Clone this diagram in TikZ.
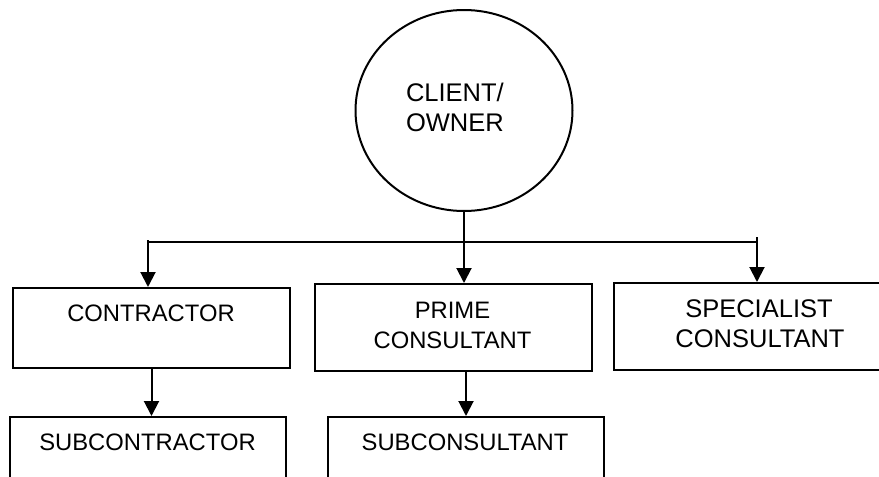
\documentclass[tikz,border=0pt]{standalone}
\usepackage{fontspec}
\setmainfont{Liberation Sans}
\usetikzlibrary{arrows.meta,shapes.geometric,calc}

\begin{document}
\begin{tikzpicture}[x=1pt,y=-1pt,
  line width=2pt,
  box/.style={draw, rectangle, line width=2pt, minimum width=#1, inner sep=0pt},
  lbl/.style={anchor=base, inner sep=0pt, font=\fontsize{23.8}{30}\selectfont},
  biglbl/.style={anchor=base, inner sep=0pt, font=\fontsize{25.5}{30}\selectfont},
  link/.style={-{Triangle[length=15pt,width=15pt]}, line width=2pt}]

  \useasboundingbox (0,0) rectangle (879,477);
  \clip (0,0) rectangle (879,477);
  \fill[white] (0,0) rectangle (879,477);

  % owner at the top
  \node[draw, ellipse, line width=2pt, minimum width=217pt, minimum height=201pt, inner sep=0pt] (client) at (464,110.5) {};
  \node[biglbl, anchor=base west] (clientA) at (405,101.7) {CLIENT/};
  \node[biglbl, anchor=base west] (clientB) at (405,131.7) {OWNER};

  % first tier
  \node[box=277pt, minimum height=80pt] (contractor) at (151.5,328) {};
  \node[lbl] (contractorT) at (151,321.7) {CONTRACTOR};

  \node[box=277pt, minimum height=87pt] (prime) at (453.5,327.5) {};
  \node[lbl] (primeA) at (452.5,318) {PRIME};
  \node[lbl] (primeB) at (452.5,348) {CONSULTANT};

  \node[box=292pt, minimum height=87pt] (specialist) at (760,326.5) {};
  \node[biglbl] (specialistA) at (759,317.5) {SPECIALIST};
  \node[biglbl] (specialistB) at (760,347.5) {CONSULTANT};

  % second tier
  \node[box=276pt, minimum height=80pt] (subcontractor) at (148,457) {};
  \node[lbl] (subcontractorT) at (147.5,450) {SUBCONTRACTOR};

  \node[box=276pt, minimum height=80pt] (subconsultant) at (466,457) {};
  \node[lbl] (subconsultantT) at (465,450) {SUBCONSULTANT};

  % distribution bus
  \coordinate (busL) at (148,240);
  \coordinate (busR) at (757,237);
  \draw (147,242) -- (757,242);

  \draw[link] (client.south) -- (client.south |- prime.north);
  \draw[link] (busL) -- (busL |- contractor.north);
  \draw[link] (busR) -- (busR |- specialist.north);

  \draw[link] (contractor.south) -- (contractor.south |- subcontractor.north);
  \draw[link] (prime.south -| subconsultant.north) -- (subconsultant.north);
\end{tikzpicture}
\end{document}
